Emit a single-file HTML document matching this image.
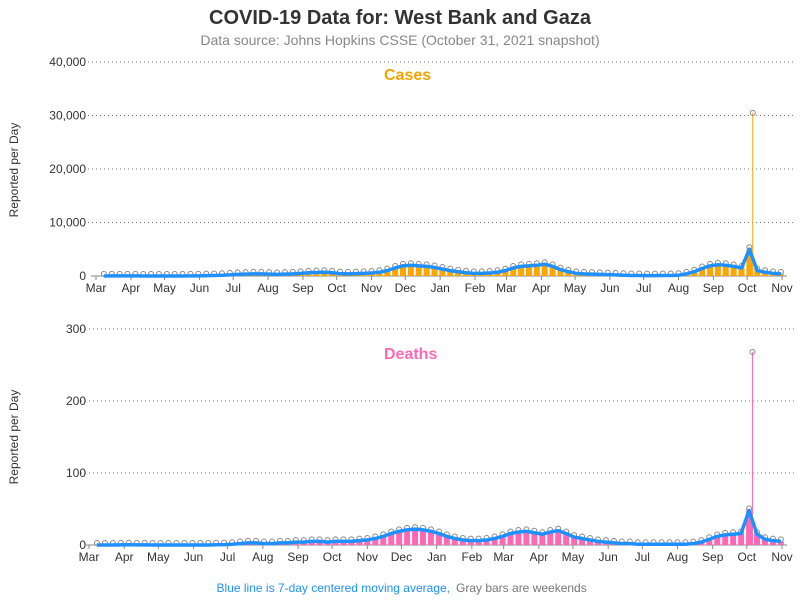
<!DOCTYPE html>
<html><head><meta charset="utf-8"><style>
body{margin:0;background:#fff;font-family:"Liberation Sans",sans-serif}
svg text{font-family:"Liberation Sans",sans-serif}
</style></head><body>
<svg id="c" width="800" height="600" xmlns="http://www.w3.org/2000/svg">
<text x="400" y="24" text-anchor="middle" font-size="20" font-weight="bold" fill="#333">COVID-19 Data for: West Bank and Gaza</text>
<text x="400" y="45" text-anchor="middle" font-size="14" fill="#888">Data source: Johns Hopkins CSSE (October 31, 2021 snapshot)</text>
<text x="98" y="80" font-size="16" font-weight="bold" fill="#f5a300" transform="translate(286,0)">Cases</text>
<text x="384" y="359" font-size="16" font-weight="bold" fill="#ff69b4">Deaths</text>
<text transform="translate(18,170) rotate(-90)" text-anchor="middle" font-size="12" fill="#333">Reported per Day</text>
<text transform="translate(18,437) rotate(-90)" text-anchor="middle" font-size="12" fill="#333">Reported per Day</text>
<text x="450" y="592" text-anchor="end" font-size="12" fill="#1e90ff">Blue line is 7-day centered moving average,</text>
<text x="456" y="592" font-size="12" fill="#777">Gray bars are weekends</text>
<g id="g1"></g><g id="g2"></g>
</svg>
<script>
const months=["Mar","Apr","May","Jun","Jul","Aug","Sep","Oct","Nov","Dec","Jan","Feb","Mar","Apr","May","Jun","Jul","Aug","Sep","Oct","Nov"];
const monthDays=[0,31,61,92,122,153,184,214,245,275,306,337,365,396,426,457,487,518,549,579,610];
const casesTicks=[0,10000,20000,30000,40000];
const deathsTicks=[0,100,200,300];
const casesWeekly=[5,20,30,20,15,10,5,5,5,10,10,15,30,60,100,150,200,300,350,400,400,350,300,350,400,500,600,650,700,600,450,400,450,500,550,700,1000,1500,1900,2000,1900,1800,1600,1300,1000,800,600,500,500,550,700,1000,1500,1800,1900,2000,2200,1800,1200,800,500,400,350,300,250,200,150,100,100,80,80,100,100,150,400,800,1400,1900,2100,2000,1800,1500,5000,1000,700,500,400];
const deathsWeekly=[0,0,0,0.2,0.3,0.2,0.1,0,0,0,0,0,0,0,0,0.3,0.5,1,2,3,3,2,2,3,3,4,4,5,5,4,5,5,5,6,7,9,12,16,19,21,22,21,19,16,12,9,7,6,6,7,9,12,16,18,19,17,15,18,20,16,11,9,7,5,4,3,2,2,1,1,1,1,1,1,1,2,4,8,12,14,15,16,48,15,8,6,5];
const casesSpike=[584,30500];
const deathsSpike=[584,268];
const NS="http://www.w3.org/2000/svg";
function mk(p,t,a){const e=document.createElementNS(NS,t);for(const k in a)e.setAttribute(k,a[k]);p.appendChild(e);return e;}
function panel(g,x0,x1,y0,y1,max,ticks,fmt,vals,spike,color,pre){
 const xs=d=>x0+(x1-x0)*d/610, ys=v=>y0-(y0-y1)*v/max;
 ticks.forEach(t=>{
  if(t>0){const l=mk(g,"line",{x1:x0-8,x2:795,y1:ys(t),y2:ys(t),stroke:"#777","stroke-dasharray":"1,3"});
  
  }
  const tx=mk(g,"text",{x:86,y:ys(t)+4,"text-anchor":"end","font-size":12,fill:"#333"});tx.textContent=fmt(t);
  
  
 });
 const ax=mk(g,"line",{x1:x0-5,x2:x1+5,y1:y0,y2:y0,stroke:"#888"});
 
 
 months.forEach((m,i)=>{
  const x=xs(monthDays[i]);
  mk(g,"line",{x1:x,x2:x,y1:y0,y2:y0+4,stroke:"#888"});
  const t=mk(g,"text",{x:x,y:y0+16,"text-anchor":"middle","font-size":12,fill:"#333"});t.textContent=m;
  
  
 });
 const pts=[];
 vals.forEach((v,i)=>{
  const d=4+7*i+3, x=xs(d), y=ys(v);
  const b=mk(g,"rect",{x:x-3,y:y,width:6,height:y0-y,fill:color});
  
  
  const c=mk(g,"circle",{cx:x,cy:y-2,r:2.5,fill:"none",stroke:"#888","stroke-width":1});
  
  
  pts.push(x+","+y);
 });
 const sx=xs(spike[0]), sy=ys(spike[1]);
 const sl=mk(g,"line",{x1:sx,x2:sx,y1:y0,y2:sy,stroke:color,"stroke-width":1});
 
 
 const sc=mk(g,"circle",{cx:sx,cy:sy,r:2.5,fill:"none",stroke:"#888"});
 
 
 const pl=mk(g,"polyline",{points:pts.join(" "),fill:"none",stroke:"#1e90ff","stroke-width":3.5,"stroke-linejoin":"round"});
 
 
}
panel(document.getElementById("g1"),96,782,276,62,40000,casesTicks,t=>t.toLocaleString("en-US"),casesWeekly,casesSpike,"#ffa500","cases");
panel(document.getElementById("g2"),89,782,545,329,300,deathsTicks,t=>String(t),deathsWeekly,deathsSpike,"#ff69b4","deaths");
</script>
</body></html>
